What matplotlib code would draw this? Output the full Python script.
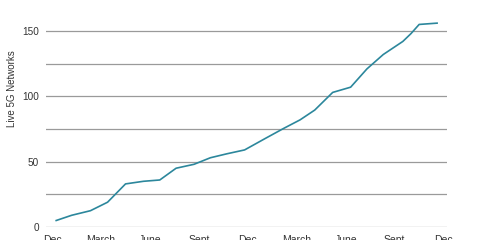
import matplotlib.pyplot as plt

# months since Dec (first year)
months = [0.25, 1.2, 2.35, 3.4, 4.5, 5.6, 6.6, 7.6, 8.7, 9.7, 10.7, 11.8,
          13.1, 14.2, 15.2, 16.1, 17.2, 18.3, 19.3, 20.3, 21.5, 22.0, 22.5, 23.6]
networks = [5, 9, 12.5, 19, 33, 35, 36, 45, 48, 53, 56, 59,
            68, 75.5, 82, 89.5, 103, 107, 121, 132, 142, 148, 155, 156]

tick_pos = [0, 3, 6, 9, 12, 15, 18, 21, 24]
tick_labels = ["Dec", "March", "June", "Sept", "Dec", "March", "June", "Sept", "Dec"]

plt.rcParams['font.family'] = ['Liberation Sans', 'DejaVu Sans']

fig = plt.figure(figsize=(4.8, 2.4), dpi=100)
ax = fig.add_axes([0.096, 0.054, 0.835, 0.946])

ax.plot(months, networks, color="#2c879c", linewidth=1.2)

ax.set_xlim(-0.37, 24.2)
ax.set_ylim(0, 173.7)
ax.set_yticks([0, 25, 50, 75, 100, 125, 150])
ax.set_yticklabels(["0", "", "50", "", "100", "", "150"])
ax.set_xticks(tick_pos)
ax.set_xticklabels(tick_labels)
ax.grid(axis="y", color="#9a9a9a", linewidth=0.9)
ax.set_axisbelow(True)
ax.tick_params(length=0, colors="#333333")
ax.tick_params(axis="x", labelsize=7.5, pad=6)
ax.tick_params(axis="y", labelsize=7.2, pad=5)
for s in ax.spines.values():
    s.set_visible(False)

ax.set_ylabel("Live 5G Networks", fontsize=7, color="#333333")
ax.yaxis.set_label_coords(-0.072, 0.608)

fig.savefig("out.png", dpi=100)
